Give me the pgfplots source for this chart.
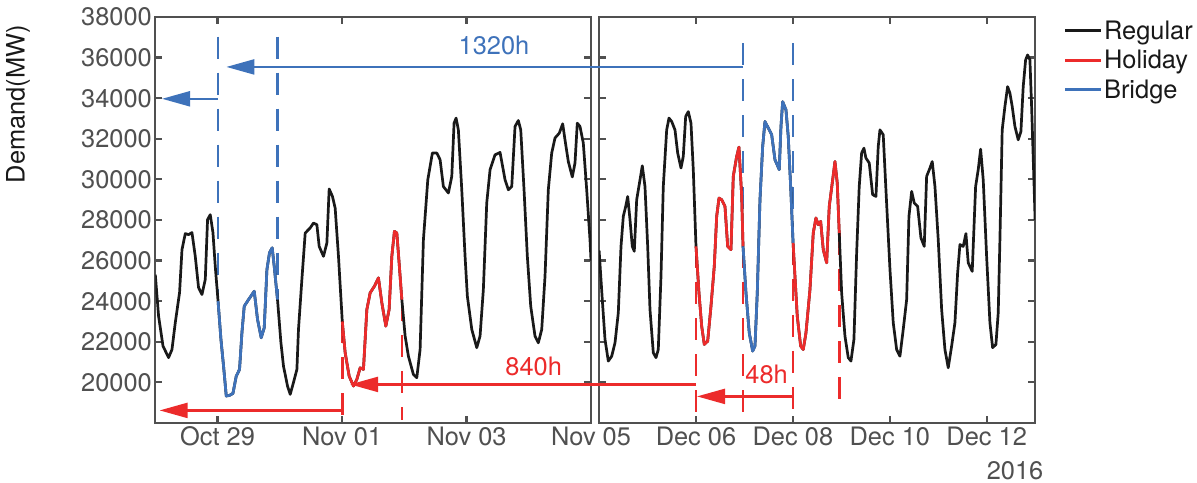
\documentclass[border=0pt]{standalone}
\usepackage{fontspec}
\setmainfont{TeX Gyre Heros}
\usepackage{pgfplots}
\pgfplotsset{compat=1.18}
\usetikzlibrary{arrows.meta}
\definecolor{regc}{RGB}{25,25,25}
\definecolor{holc}{RGB}{236,43,43}
\definecolor{brc}{RGB}{62,114,186}
\definecolor{axc}{RGB}{80,80,80}
\newcommand{\bigfont}{\fontsize{25.5}{30}\selectfont}
\tikzset{
  bdash/.style={brc, line width=2.5bp, dash pattern=on 22bp off 14bp},
  rdash/.style={holc, line width=2.5bp, dash pattern=on 22bp off 14bp},
  arr/.style={line width=2.2bp, -{Triangle[length=28bp,width=15bp]}},
}
\begin{document}
\begin{tikzpicture}
\useasboundingbox (0,0) rectangle (1197bp,483bp);
\pgfplotsset{
  panel/.style={
    scale only axis, height=406bp,
    xmin=0, ymin=18000, ymax=38000,
    ytick={20000,22000,24000,26000,28000,30000,32000,34000,36000,38000},
    scaled y ticks=false,
    axis line style={axc, line width=2.2bp},
    every tick/.append style={axc, line width=2.2bp},
    major tick length=7bp,
    tick label style={font=\bigfont, text=axc},
    /pgf/number format/assume math mode=true,
    /pgf/number format/1000 sep={},
    anchor=south west,
  },
  reg/.style={regc, line width=2.7bp, line join=round},
  hol/.style={holc, line width=2.7bp, line join=round},
  bri/.style={brc, line width=2.7bp, line join=round},
}
% ---------------- left panel ----------------
\begin{axis}[panel, at={(155.3bp,60bp)}, width=435.7bp, xmax=168,
  xtick={24,72,120,168}, xticklabels={Oct 29,Nov 01,Nov 03,Nov 05}]
\draw[bdash] (axis cs:24.2,37030) -- (axis cs:24.2,24000);
\draw[bdash] (axis cs:47.1,37030) -- (axis cs:47.1,24100);
\draw[rdash] (axis cs:72.1,23000) -- (axis cs:72.1,18150);
\draw[rdash] (axis cs:95.1,24100) -- (axis cs:95.1,18150);
\addplot[reg] coordinates {
(0,25310) (1.27,23260) (2.97,21790) (5.12,21220) (6.43,21620) (7.71,22950) (9.36,24430) (10.29,26540) (11.56,27330) (12.83,27280) (14.14,27380) (15.41,26210) (16.68,24670) (17.99,24330) (19.27,25070) (20.15,28020) (21.19,28260) (22.23,27380) (23.12,25720) (24.2,24000)
(25.31,22120) (26.32,20800) (27.36,19330) (28.63,19360) (29.94,19460) (31.21,20310) (32.48,20640) (33.41,22460) (34.29,23750) (35.95,24080) (38.15,24490) (39.42,23100) (40.84,22200) (42.0,22690) (43.04,25560) (44.04,26390) (45.08,26630) (45.85,25720) (47.12,24080)
(48.43,21970) (49.43,20800) (50.98,19820) (52.02,19410) (53.29,20000) (54.6,20640) (55.21,22610) (56.52,25070) (57.8,27360) (59.72,27610) (61.0,27850) (62.3,27770) (63.19,26700) (64.85,26210) (66.16,26870) (67.04,29530) (68.31,29160) (69.35,28590) (70.63,26210) (72.1,23000)
(73.21,21460) (74.75,20310) (76.41,19820) (77.72,20150) (78.99,20720) (80.26,20640) (81.57,23590) (82.84,24410) (84.5,24740) (86.04,25150) (87.35,23920) (88.89,22770) (90.16,23590) (91.2,26210) (92.2,27440) (93.13,27360) (94.01,25890) (95.06,24080)
(96.33,22280) (97.6,21290) (99.52,20390) (100.83,20230) (102.1,21620) (103.38,27030) (105.07,29980) (106.84,31300) (108.54,31300) (109.81,30970) (111.08,29650) (113.01,29330) (114.32,30150) (115.2,32770) (115.98,33020) (116.86,32440) (118.17,29490) (119.44,26210) (120.33,24240) (122.03,22610) (123.95,21710) (125.22,22280) (126.49,24570) (127.8,28840) (129.08,30480) (131.0,31210) (132.93,31330) (134.86,29980) (136.13,29490) (137.44,29650) (138.71,32610) (139.98,32900) (140.91,32440) (142.18,29490) (143.45,26210) (144.76,23750) (146.41,22280) (147.69,21950) (149.0,22610) (150.27,25230) (151.54,29490) (152.85,31300) (154.12,32040) (155.78,32280) (157.09,32740) (157.97,31950) (159.25,30880) (160.79,30120) (161.83,30810) (162.71,32770) (163.75,32610) (165.03,31790) (166.34,29490) (167.61,27030) (168,26000)
};
\addplot[bri] coordinates {
(24.2,24000) (25.31,22120) (26.32,20800) (27.36,19330) (28.63,19360) (29.94,19460) (31.21,20310) (32.48,20640) (33.41,22460) (34.29,23750) (35.95,24080) (38.15,24490) (39.42,23100) (40.84,22200) (42.0,22690) (43.04,25560) (44.04,26390) (45.08,26630) (45.85,25720) (47.12,24080)
};
\addplot[hol] coordinates {
(72.1,23000) (73.21,21460) (74.75,20310) (76.41,19820) (77.72,20150) (78.99,20720) (80.26,20640) (81.57,23590) (82.84,24410) (84.5,24740) (86.04,25150) (87.35,23920) (88.89,22770) (90.16,23590) (91.2,26210) (92.2,27440) (93.13,27360) (94.01,25890) (95.06,24080)
};
\draw[brc, arr] (axis cs:24.2,33970) -- (axis cs:2.6,33970);
\draw[holc, arr] (axis cs:72.1,18620) -- (axis cs:1.66,18620);
\node[text=brc, font=\bigfont] at (axis cs:130.6,36620) {1320h};
\node[text=holc, font=\bigfont] at (axis cs:145.9,20790) {840h};
\coordinate (bA) at (axis cs:27.4,35540);
\coordinate (rA) at (axis cs:75.1,19900);
\end{axis}
% ---------------- right panel ----------------
\begin{axis}[panel, at={(599.1bp,60bp)}, width=436bp, xmax=216,
  xtick={48,96,144,192}, xticklabels={Dec 06,Dec 08,Dec 10,Dec 12},
  yticklabels={},
  legend cell align=left,
  legend style={at={(axis description cs:1.0587,1.0)}, anchor=north west,
    draw=none, fill=none, font=\bigfont, text=regc,
    nodes={inner sep=1.5bp}, row sep=6.5bp},
  legend image code/.code={\draw[#1] (0bp,0bp) -- (36bp,0bp);}]
\draw[rdash] (axis cs:48,26700) -- (axis cs:48,18050);
\draw[bdash] (axis cs:71.3,36700) -- (axis cs:71.3,26700);
\draw[rdash] (axis cs:71.3,26700) -- (axis cs:71.3,18050);
\draw[bdash] (axis cs:96.1,36700) -- (axis cs:96.1,26870);
\draw[rdash] (axis cs:96.1,26870) -- (axis cs:96.1,18100);
\draw[rdash] (axis cs:119,27360) -- (axis cs:119,18830);
\addplot[reg] coordinates {
(0,26500) (1.58,24080) (2.92,22120) (4.56,21050) (6.24,21290) (7.88,21950) (9.51,23430) (10.85,26700) (11.99,28180) (13.18,28670) (14.17,29160) (15.3,28020) (16.44,26700) (17.43,26460) (18.62,29000) (20.26,29980) (21.4,30670) (22.73,29650) (24.07,26700) (25.21,23590) (26.85,21460) (28.18,21220) (29.32,21620) (30.66,25230) (31.8,29650) (33.48,32440) (34.62,33020) (35.96,32850) (37.59,32440) (38.93,31300) (40.56,30560) (41.7,31130) (42.89,33100) (44.18,33340) (45.52,32770) (46.66,30480) (48.0,26700)
(49.48,24410) (50.82,22770) (52.11,21870) (53.79,22030) (55.42,23750) (57.06,25720) (58.25,28180) (59.39,29080) (60.72,29000) (62.36,28670) (63.7,26700) (65.33,26540) (66.47,30150) (68.15,31130) (69.29,31590) (70.63,29200) (71.3,26700)
(72.76,24410) (74.39,22440) (76.08,21540) (77.22,21790) (78.36,24410) (79.7,29000) (81.03,31620) (82.17,32850) (83.81,32530) (85.49,32200) (87.13,30970) (89.25,30480) (90.1,32610) (90.94,33830) (92.57,33430) (93.71,32110) (94.9,29650) (96.1,26870)
(97.03,25230) (98.17,23260) (99.85,21790) (101.14,21620) (102.48,22440) (104.46,24570) (106.09,27360) (107.43,28100) (108.57,27770) (109.76,27930) (111.05,26540) (112.73,25890) (114.02,28670) (115.71,29980) (116.84,30880) (117.98,29820) (118.97,27360)
(120.16,24410) (121.8,22280) (123.43,21220) (124.77,21050) (126.25,22120) (127.59,26380) (128.87,29650) (130.06,31300) (131.2,31540) (132.19,31050) (133.83,30810) (135.51,29250) (137.15,29160) (138.29,31620) (139.13,32440) (140.76,32200) (142.1,29490) (144.1,25560) (145.72,22940) (147.4,21620) (149.04,21290) (150.67,22610) (152.36,24080) (153.5,28180) (154.84,29410) (156.12,28840) (157.81,28670) (159.44,27120) (161.08,26700) (162.26,30150) (163.9,30560) (165.04,30880) (166.38,29650) (168.01,27030) (169.7,23590) (171.33,21620) (172.96,20720) (174.65,21790) (176.28,22940) (177.62,25400) (178.76,26790) (180.39,26700) (181.73,27330) (182.87,25890) (184.85,25470) (186.53,29650) (187.82,30480) (189.01,31490) (190.3,29980) (191.98,26210) (193.62,22940) (194.95,21710) (196.59,21870) (197.73,23430) (198.57,27030) (199.7,32440) (201.04,33590) (202.38,34570) (203.52,34250) (204.66,33590) (206.0,32610) (207.63,31950) (208.97,32360) (210.11,34570) (211.3,35890) (212.29,36130) (213.43,35890) (214.27,33590) (215.56,29490) (216,28000)
};
\addlegendentry{Regular}
\addplot[hol] coordinates {
(48.0,26700) (49.48,24410) (50.82,22770) (52.11,21870) (53.79,22030) (55.42,23750) (57.06,25720) (58.25,28180) (59.39,29080) (60.72,29000) (62.36,28670) (63.7,26700) (65.33,26540) (66.47,30150) (68.15,31130) (69.29,31590) (70.63,29200) (71.3,26700)
};
\addlegendentry{Holiday}
\addplot[bri] coordinates {
(71.3,26700) (72.76,24410) (74.39,22440) (76.08,21540) (77.22,21790) (78.36,24410) (79.7,29000) (81.03,31620) (82.17,32850) (83.81,32530) (85.49,32200) (87.13,30970) (89.25,30480) (90.1,32610) (90.94,33830) (92.57,33430) (93.71,32110) (94.9,29650) (96.1,26870)
};
\addlegendentry{Bridge}
\addplot[hol, forget plot] coordinates {
(96.1,26870) (97.03,25230) (98.17,23260) (99.85,21790) (101.14,21620) (102.48,22440) (104.46,24570) (106.09,27360) (107.43,28100) (108.57,27770) (109.76,27930) (111.05,26540) (112.73,25890) (114.02,28670) (115.71,29980) (116.84,30880) (117.98,29820) (118.97,27360)
};
\draw[holc, arr] (axis cs:96.0,19310) -- (axis cs:48.5,19310);
\node[text=holc, font=\bigfont] at (axis cs:83.0,20390) {48h};
\coordinate (bB) at (axis cs:71.3,35540);
\coordinate (rB) at (axis cs:48,19900);
\end{axis}
\draw[brc, arr] (bB) -- (bA);
\draw[holc, arr] (rB) -- (rA);
\node[rotate=90, font=\bigfont, text=regc] at (18bp,379bp) {Demand(MW)};
\node[font=\bigfont, text=axc] at (1015bp,12bp) {2016};
\end{tikzpicture}
\end{document}
